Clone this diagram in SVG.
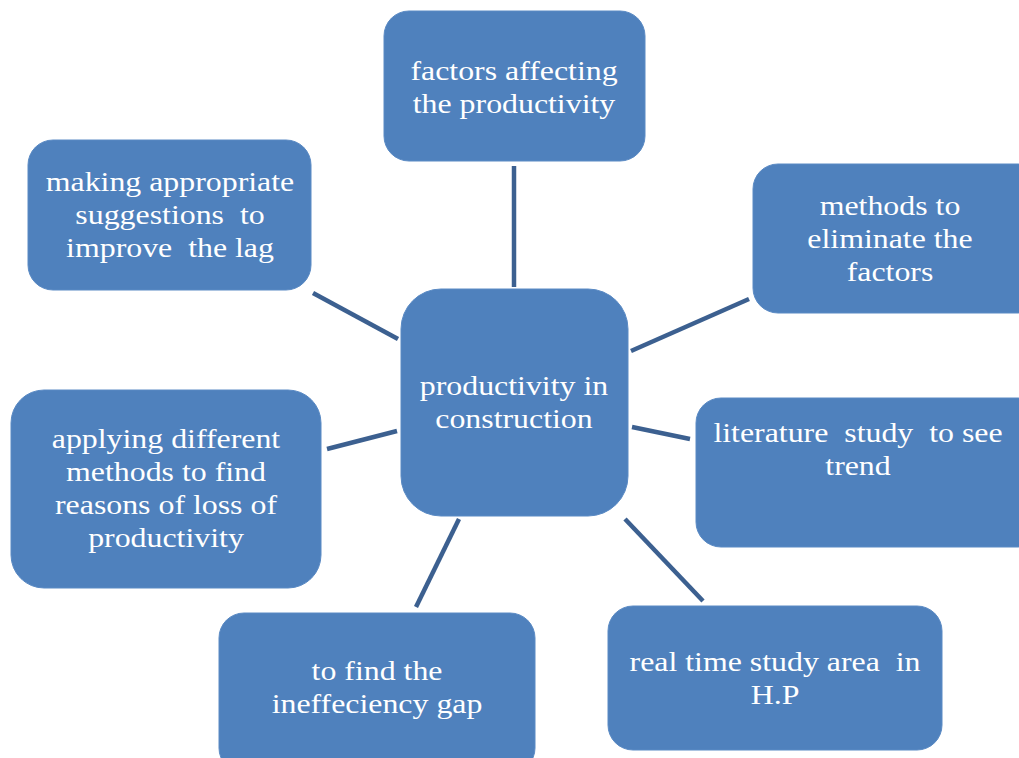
<svg xmlns="http://www.w3.org/2000/svg" width="1019" height="758" viewBox="0 0 1019 758">
  <style>
    .box { fill: #4F81BD; stroke: #5A8AC4; stroke-width: 1; }
    .lbl { font-family: "Liberation Serif", "Times New Roman", serif; font-size: 27px; fill: #FFFFFF; text-anchor: middle; white-space: pre; }
    .link { stroke: #3C6090; stroke-width: 4.5; fill: none; }
  </style>
  <rect width="1019" height="758" fill="#FFFFFF"/>

  <g id="connectors">
    <line class="link" x1="514" y1="166" x2="514" y2="287"/>
    <line class="link" x1="631" y1="351" x2="749" y2="299"/>
    <line class="link" x1="632" y1="427" x2="690" y2="439"/>
    <line class="link" x1="625" y1="519" x2="703" y2="601"/>
    <line class="link" x1="459" y1="519" x2="416" y2="607"/>
    <line class="link" x1="327" y1="449" x2="397" y2="431"/>
    <line class="link" x1="313" y1="293" x2="398" y2="339"/>
  </g>

  <!-- labels are set in a slightly widened serif: each text group is scaled 1.18 horizontally about its centre -->
  <g id="node-center">
    <rect class="box" x="401" y="289" width="227" height="227" rx="40"/>
    <g transform="translate(514 0) scale(1.18 1)">
      <text class="lbl" x="0" y="395">productivity in</text>
      <text class="lbl" x="0" y="428">construction</text>
    </g>
  </g>

  <g id="node-factors">
    <rect class="box" x="384" y="11" width="261" height="150" rx="25"/>
    <g transform="translate(514 0) scale(1.18 1)">
      <text class="lbl" x="0" y="80">factors affecting</text>
      <text class="lbl" x="0" y="113">the productivity</text>
    </g>
  </g>

  <g id="node-methods">
    <rect class="box" x="753" y="164" width="290" height="149" rx="25"/>
    <g transform="translate(890 0) scale(1.18 1)">
      <text class="lbl" x="0" y="215">methods to</text>
      <text class="lbl" x="0" y="248">eliminate the</text>
      <text class="lbl" x="0" y="281">factors</text>
    </g>
  </g>

  <g id="node-literature">
    <rect class="box" x="696" y="398" width="347" height="149" rx="25"/>
    <g transform="translate(858 0) scale(1.18 1)">
      <text class="lbl" x="0" y="442">literature  study  to see</text>
      <text class="lbl" x="0" y="475">trend</text>
    </g>
  </g>

  <g id="node-realtime">
    <rect class="box" x="608" y="606" width="334" height="144" rx="25"/>
    <g transform="translate(775 0) scale(1.18 1)">
      <text class="lbl" x="0" y="671">real time study area  in</text>
      <text class="lbl" x="0" y="704">H.P</text>
    </g>
  </g>

  <g id="node-gap">
    <rect class="box" x="219" y="613" width="316" height="160" rx="25"/>
    <g transform="translate(377 0) scale(1.18 1)">
      <text class="lbl" x="0" y="680">to find the</text>
      <text class="lbl" x="0" y="713">ineffeciency gap</text>
    </g>
  </g>

  <g id="node-applying">
    <rect class="box" x="11" y="390" width="310" height="198" rx="33"/>
    <g transform="translate(166 0) scale(1.18 1)">
      <text class="lbl" x="0" y="448">applying different</text>
      <text class="lbl" x="0" y="481">methods to find</text>
      <text class="lbl" x="0" y="514">reasons of loss of</text>
      <text class="lbl" x="0" y="547">productivity</text>
    </g>
  </g>

  <g id="node-suggestions">
    <rect class="box" x="28" y="140" width="283" height="150" rx="25"/>
    <g transform="translate(170 0) scale(1.18 1)">
      <text class="lbl" x="0" y="191">making appropriate</text>
      <text class="lbl" x="0" y="224">suggestions  to</text>
      <text class="lbl" x="0" y="257">improve  the lag</text>
    </g>
  </g>
</svg>
